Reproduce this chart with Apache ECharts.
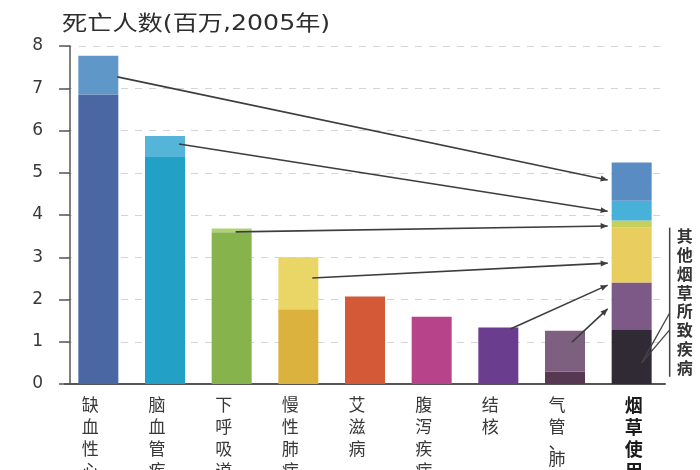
<!DOCTYPE html>
<html>
<head>
<meta charset="utf-8">
<script src="https://cdn.jsdelivr.net/npm/echarts@6/dist/echarts.min.js"></script>
<style>
html,body{margin:0;padding:0;background:#fff;}
#main{width:700px;height:470px;}
</style>
</head>
<body>
<div id="main"></div>
<script>
// ---------- DATA ----------
const categories = ['缺血性心脏病','脑血管疾病','下呼吸道感染','慢性肺病','艾滋病','腹泻疾病','结核','气管、肺癌','烟草使用'];
// deaths not attributed to tobacco (millions, 2005)
const otherDeaths = [6.85, 5.37, 3.59, 1.77, 2.07, 1.59, 1.34, 0.29, null];
// deaths attributed to tobacco (millions)
const tobaccoShare = [0.92, 0.50, 0.09, 1.23, null, null, null, 0.97, null];
// tobacco-use bar, bottom to top: other diseases, TB + lung cancer, COPD, LRI, cerebrovascular, IHD
const tobaccoSegments = [1.28, 1.12, 1.31, 0.16, 0.47, 0.90];
// arrows: source category, source value, target value on tobacco bar
const linkSource = [0, 1, 2, 3, 6, 7];
const linkSourceValue = [7.27, 5.68, 3.60, 2.51, 1.30, 0.99];
const linkTargetValue = [4.83, 4.09, 3.74, 2.86, 2.34, 1.78];
const yTicks = [0,1,2,3,4,5,6,7,8];
const titleText = '死亡人数(百万,2005年)';
const bracketText = '其他烟草所致疾病';
const bracketRange = [3.70, 0.17];
const pointerFrom = [1.68, 1.28];
const pointerTo = 0.50;

// ---------- STYLE ----------
const baseColors = ['#4a66a3','#22a0c6','#86b34c','#dcb23e','#d45a37','#b7438a','#6a3d8e','#573853','#2f2a34'];
const topColors  = ['#6097c9','#55b5d9','#b0d276','#ead567','#000','#000','#000','#7d6080','#7c5987'];
const tobaccoUpperColors = ['#e9cd5e','#c5cf5c','#48b1d9','#5a8cc4'];

const N = categories.length;
const last = N - 1;
function onlyLast(v){ return categories.map((c,i)=> i===last ? v : '-'); }

const series = [];
series.push({
  type:'bar', stack:'s', barWidth:40, silent:true,
  data: otherDeaths.map((v,i)=>({value: i===last ? tobaccoSegments[0] : v, itemStyle:{color: baseColors[i]}}))
});
series.push({
  type:'bar', stack:'s', barWidth:40, silent:true,
  data: tobaccoShare.map((v,i)=>({value: i===last ? tobaccoSegments[1] : (v==null?'-':v), itemStyle:{color: topColors[i]}}))
});
for (let k=2;k<tobaccoSegments.length;k++){
  series.push({
    type:'bar', stack:'s', barWidth:40, silent:true,
    itemStyle:{color: tobaccoUpperColors[k-2]},
    data: onlyLast(tobaccoSegments[k])
  });
}

const chart = echarts.init(document.getElementById('main'), null, {renderer:'canvas'});
chart.setOption({
  animation:false,
  backgroundColor:'#fff',
  grid:{left:65, right:35, top:46, bottom:86, containLabel:false, outerBoundsMode:'none'},
  xAxis:{
    type:'category', data:categories,
    axisLine:{lineStyle:{color:'#555', width:2}},
    axisTick:{show:false},
    axisLabel:{
      interval:0, margin:10, hideOverlap:false,
      formatter:(v,i)=>{
        const st = i===last ? 'b' : 'n';
        return v.split('').map(ch => ch==='、' ? '{p|、}' : '{'+st+'|'+ch+'}').join('\n');
      },
      rich:{
        n:{fontSize:17, lineHeight:22, color:'#383838', fontFamily:'Noto Sans CJK SC', padding:[0,16,0,0]},
        p:{fontSize:17, lineHeight:10, color:'#383838', fontFamily:'Noto Sans CJK SC', padding:[0,16,0,0]},
        b:{fontSize:18, lineHeight:22, color:'#1a1a1a', fontWeight:'bold', fontFamily:'Noto Sans CJK SC', padding:[0,0,0,4]}
      }
    }
  },
  yAxis:{
    type:'value', min:yTicks[0], max:yTicks[yTicks.length-1], interval:1, offset:-5,
    axisLine:{show:true, lineStyle:{color:'#555', width:1.5}},
    axisTick:{show:true, length:11, lineStyle:{color:'#555', width:1.5}},
    axisLabel:{margin:27, fontSize:17, color:'#383838', fontFamily:'DejaVu Sans'},
    splitLine:{show:true, lineStyle:{color:'#d4d4d4', width:1, type:[7,7]}}
  },
  series: series
});

// ---------- ANNOTATIONS (positions from data via the axes) ----------
function px(i, v){ return chart.convertToPixel({xAxisIndex:0, yAxisIndex:0}, [i, v]); }
const startOffsets = [19, 14, 4, 14, 12, 7];
const graphics = [];
graphics.push({
  type:'text', x:62, y:14, scaleX:1.2, z:10,
  style:{text:titleText, fontSize:21, fontFamily:'DejaVu Sans, Noto Sans CJK SC', fill:'#2e2e2e', textVerticalAlign:'top'}
});
const lineColor = '#3d3d3d';
for (let k=0;k<linkSource.length;k++){
  const a = px(linkSource[k], linkSourceValue[k]);
  const b = px(last, linkTargetValue[k]);
  const x1 = a[0] + startOffsets[k], y1 = a[1];
  const x2 = b[0] - 24, y2 = b[1];
  graphics.push({type:'line', z:10, shape:{x1:x1,y1:y1,x2:x2,y2:y2}, style:{stroke:lineColor, lineWidth:1.6}});
  const ang = Math.atan2(y2-y1, x2-x1);
  const L = 7, W = 3;
  const bx = x2 - L*Math.cos(ang), by = y2 - L*Math.sin(ang);
  graphics.push({type:'polygon', z:10, shape:{points:[
    [x2,y2],
    [bx + W*Math.sin(ang), by - W*Math.cos(ang)],
    [bx - W*Math.sin(ang), by + W*Math.cos(ang)]
  ]}, style:{fill:lineColor}});
}
// bracket for other tobacco-caused diseases
const bTop = px(last, bracketRange[0]);
const bBot = px(last, bracketRange[1]);
const bx = bTop[0] + 38;
graphics.push({type:'line', z:10, shape:{x1:bx, y1:bTop[1], x2:bx, y2:bBot[1]}, style:{stroke:'#444', lineWidth:1.5}});
graphics.push({
  type:'text', z:10, x:bx+15, y:bTop[1]-1,
  style:{text:bracketText.split('').join('\n'), fontSize:16, lineHeight:18.8, fontWeight:'bold',
         fontFamily:'Noto Sans CJK SC', fill:'#333', textAlign:'center', textVerticalAlign:'top'}
});
const tip = px(last, pointerTo);
const tipX = tip[0] + 10, tipY = tip[1];
pointerFrom.forEach(v=>{
  const p = px(last, v);
  graphics.push({type:'line', z:10, shape:{x1:bx, y1:p[1], x2:tipX, y2:tipY}, style:{stroke:'#444', lineWidth:1.3}});
});
chart.setOption({graphic: graphics});
</script>
</body>
</html>
